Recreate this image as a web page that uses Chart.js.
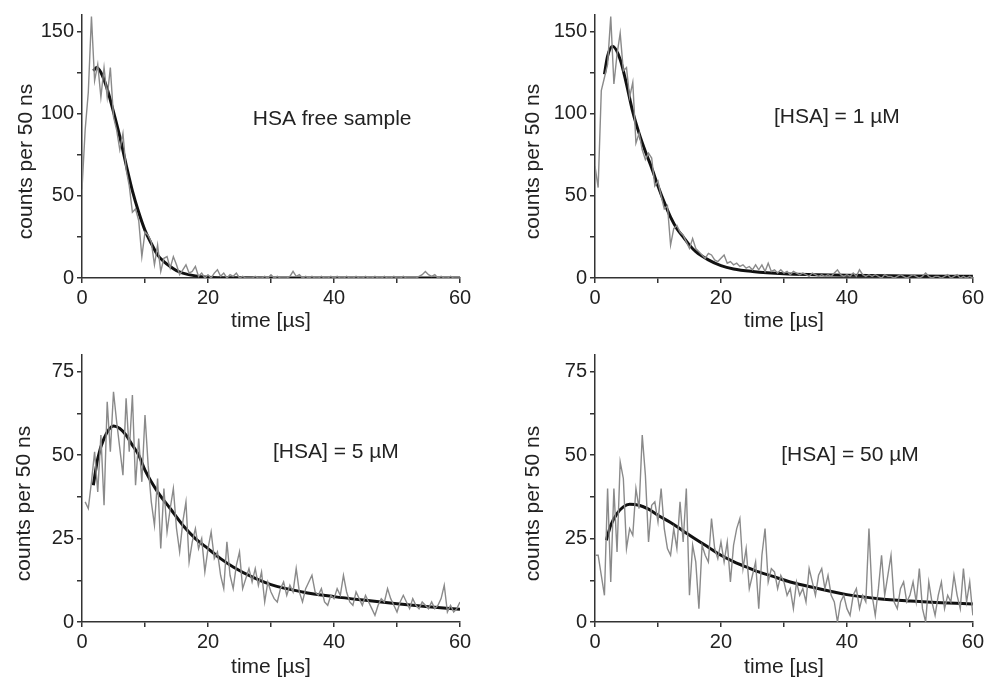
<!DOCTYPE html>
<html>
<head>
<meta charset="utf-8">
<script src="https://cdn.jsdelivr.net/npm/chart.js@4.4.1/dist/chart.umd.min.js"></script>
<style>
  html, body { margin: 0; padding: 0; background: #fff; }
  body { width: 987px; height: 678px; position: relative; overflow: hidden; }
  .panel { position: absolute; }
</style>
</head>
<body>
<div class="panel" style="left:0;top:0;width:490px;height:339px"><canvas id="c1"></canvas></div>
<div class="panel" style="left:490px;top:0;width:497px;height:339px"><canvas id="c2"></canvas></div>
<div class="panel" style="left:0;top:339px;width:490px;height:339px"><canvas id="c3"></canvas></div>
<div class="panel" style="left:490px;top:339px;width:497px;height:339px"><canvas id="c4"></canvas></div>
<script>
// time bins [µs] of the measured traces
const time = [
  0, 0.5, 1, 1.5, 2, 2.5, 3, 3.5, 4, 4.5,
  5, 5.5, 6, 6.5, 7, 7.5, 8, 8.5, 9, 9.5,
  10, 10.5, 11, 11.5, 12, 12.5, 13, 13.5, 14, 14.5,
  15, 15.5, 16, 16.5, 17, 17.5, 18, 18.5, 19, 19.5,
  20, 20.5, 21, 21.5, 22, 22.5, 23, 23.5, 24, 24.5,
  25, 25.5, 26, 26.5, 27, 27.5, 28, 28.5, 29, 29.5,
  30, 30.5, 31, 31.5, 32, 32.5, 33, 33.5, 34, 34.5,
  35, 35.5, 36, 36.5, 37, 37.5, 38, 38.5, 39, 39.5,
  40, 40.5, 41, 41.5, 42, 42.5, 43, 43.5, 44, 44.5,
  45, 45.5, 46, 46.5, 47, 47.5, 48, 48.5, 49, 49.5,
  50, 50.5, 51, 51.5, 52, 52.5, 53, 53.5, 54, 54.5,
  55, 55.5, 56, 56.5, 57, 57.5, 58, 58.5, 59, 59.5,
  60
];

// measured counts per 50 ns
const countsFree = [
  54, 90, 113, 159, 120, 130, 110, 128, 110, 128,
  98, 90, 78, 88, 66, 56, 40, 42, 35, 13,
  28, 26, 22, 8, 20, 4, 12, 13, 6, 13,
  8, 2, 5, 8, 3, 4, 7, 1, 3, 0,
  2, 0, 3, 5, 1, 3, 0, 2, 1, 3,
  0, 1, 0, 0, 0, 1, 0, 0, 1, 0,
  2, 0, 1, 0, 0, 0, 1, 4, 1, 2,
  0, 1, 0, 1, 0, 0, 1, 0, 0, 1,
  0, 1, 0, 0, 1, 0, 0, 1, 0, 0,
  1, 0, 0, 1, 0, 0, 1, 0, 0, 1,
  0, 0, 1, 0, 0, 0, 0, 1, 2, 4,
  2, 1, 2, 0, 1, 0, 0, 1, 0, 0,
  0
];
const counts1uM = [
  68, 55, 114, 122, 130, 159, 118, 136, 149, 126,
  128, 110, 119, 82, 88, 78, 72, 76, 73, 56,
  59, 50, 42, 44, 20, 30, 32, 28, 26, 22,
  18, 24, 18, 16, 14, 12, 15, 14, 11, 10,
  12, 14, 9, 10, 8, 9, 7, 8, 6, 7,
  5, 8, 5, 8, 4, 9, 4, 5, 3, 5,
  3, 4, 2, 4, 3, 2, 3, 2, 1, 3,
  2, 1, 2, 1, 2, 1, 3, 5, 2, 1,
  2, 1, 3, 1, 5, 2, 1, 2, 1, 2,
  1, 0, 2, 1, 1, 0, 1, 2, 1, 0,
  1, 2, 1, 0, 1, 3, 1, 0, 1, 1,
  0, 1, 2, 0, 1, 2, 0, 1, 0, 1,
  0
];
const counts5uM = [
  null, 36, 34, 42, 51, 39, 56, 35, 66, 51,
  69, 60, 52, 44, 67, 51, 68, 41, 55, 42,
  62, 47, 36, 29, 43, 22, 40, 27, 34, 40,
  28, 21, 30, 36, 18, 24, 28, 22, 25, 15,
  22, 27, 19, 21, 14, 10, 24, 14, 10, 17,
  21, 10, 13, 16, 12, 16, 11, 15, 6, 12,
  9, 7, 6, 10, 12, 8, 11, 9, 16, 9,
  6, 10, 12, 14, 9, 8, 10, 6, 5, 8,
  7, 10, 8, 14, 9, 6, 5, 9, 7, 5,
  8, 6, 4, 2, 5, 7, 6, 10, 7, 5,
  3, 6, 8, 6, 4, 7, 5, 4, 6, 5,
  4, 6, 4, 5, 7, 11, 3, 5, 3, 4,
  6
];
const counts50uM = [
  20, 20, 14, 8, 40, 12, 40, 21, 48, 43,
  22, 28, 26, 40, 34, 56, 44, 24, 35, 36,
  30, 40, 28, 22, 20, 28, 22, 36, 24, 40,
  8, 23, 18, 4, 23, 20, 18, 31, 22, 19,
  24, 18, 24, 12, 23, 28, 31, 16, 22, 10,
  14, 18, 4, 20, 28, 12, 16, 15, 10, 14,
  12, 8, 10, 4, 12, 8, 10, 6, 16, 12,
  8, 14, 16, 10, 14, 8, 6, 0, 6, 8,
  4, 2, 8, 10, 4, 8, 6, 28, 8, 2,
  10, 20, 8, 14, 20, 6, 4, 10, 12, 6,
  8, 12, 6, 16, 4, 0, 12, 6, 2, 8,
  12, 4, 8, 6, 14, 8, 4, 16, 6, 12,
  2
];

// fitted curves (time, counts)
const fitFreeT = [1.8, 2.3, 3, 4, 5, 6, 7, 8, 9, 10, 11, 12, 13, 14, 15, 16, 18, 20, 25, 30, 40, 50, 60];
const fitFreeY = [126, 128, 125, 115, 101, 86, 69, 53, 40, 29, 21, 14, 10, 7, 4.5, 3, 1.3, 0.5, 0.1, 0, 0, 0, 0];
const fit1uMT = [1.5, 2, 2.8, 4, 5, 6, 7, 8, 9, 10, 11, 12, 13, 14, 15, 16, 18, 20, 22, 25, 30, 35, 40, 50, 60];
const fit1uMY = [124, 135, 141, 133, 118, 101, 88, 77, 67, 56, 46, 37, 30, 25, 20, 16, 11, 7.5, 5.5, 4, 2.6, 2, 1.6, 1.2, 1];
const fit5uMT = [1.8, 2.5, 3.5, 5, 6, 7, 8, 9, 10, 12, 14, 16, 18, 20, 22, 24, 27, 30, 35, 40, 45, 50, 55, 60];
const fit5uMY = [41, 49, 55, 58.7, 58, 56, 53, 50, 45.5, 39, 34, 29, 25, 22, 19, 16.5, 13.5, 11.2, 9, 7.6, 6.5, 5.5, 4.6, 3.8];
const fit50uMT = [1.8, 2.5, 3.5, 4.5, 5.5, 7, 8.5, 10, 12, 14, 16, 18, 20, 22, 24, 26, 28, 31, 35, 40, 45, 50, 55, 60];
const fit50uMY = [24.5, 29, 32.5, 34.5, 35.3, 35, 33.8, 32, 29.8, 27.3, 24.8, 22.4, 20, 18.1, 16.5, 15, 13.8, 12, 10.2, 8.2, 7, 6.3, 5.8, 5.4];

// axis ticks (labelled ones are listed separately)
const xTicks = [0, 10, 20, 30, 40, 50, 60];
const xLabelled = [0, 20, 40, 60];
const yTicksTop = [0, 25, 50, 75, 100, 125, 150];
const yLabelledTop = [0, 50, 100, 150];
const yTicksBottom = [0, 12.5, 25, 37.5, 50, 62.5, 75];
const yLabelledBottom = [0, 25, 50, 75];

const labels = ['HSA free sample', '[HSA] = 1 µM', '[HSA] = 5 µM', '[HSA] = 50 µM'];
const yTitle = 'counts per 50 ns';
const xTitle = 'time [µs]';

const FONT = 'Liberation Sans, Arial, sans-serif';
const AXIS = '#333';
const TEXT = '#222';

function pairs(xs, ys) {
  return xs.map((x, i) => ({ x: x, y: ys[i] }));
}

// sample label inside the plot + rotated y title
const labelPlugin = {
  id: 'panelLabel',
  afterDraw(chart, args, opts) {
    const ctx = chart.ctx;
    const area = chart.chartArea;
    ctx.save();
    ctx.fillStyle = TEXT;
    ctx.textAlign = 'center';
    ctx.textBaseline = 'middle';
    ctx.font = '21px ' + FONT;
    ctx.fillText(opts.text, chart.scales.x.getPixelForValue(opts.x), chart.scales.y.getPixelForValue(opts.y));
    ctx.translate(area.left - opts.titleOffset, (area.top + area.bottom) / 2 + 15);
    ctx.rotate(-Math.PI / 2);
    ctx.fillText(yTitle, 0, 0);
    ctx.restore();
  }
};

function makePanel(id, p) {
  new Chart(document.getElementById(id), {
    type: 'line',
    data: {
      datasets: [
        {
          data: pairs(time, p.counts),
          borderColor: '#8a8a8a',
          borderWidth: 1.4,
          pointRadius: 0,
          tension: 0
        },
        {
          data: pairs(p.fitT, p.fitY),
          borderColor: '#111',
          borderWidth: 3,
          pointRadius: 0,
          cubicInterpolationMode: 'monotone'
        }
      ]
    },
    options: {
      responsive: true,
      maintainAspectRatio: false,
      animation: false,
      events: [],
      layout: { padding: p.pad },
      plugins: {
        legend: { display: false },
        tooltip: { enabled: false },
        panelLabel: { text: p.label, x: p.labelX, y: p.labelY, titleOffset: p.titleOffset }
      },
      scales: {
        x: {
          type: 'linear',
          min: 0, max: 60,
          border: { display: true, color: AXIS, width: 1.5 },
          grid: { drawOnChartArea: false, drawTicks: true, tickLength: 5, tickColor: AXIS, lineWidth: 1.5 },
          afterBuildTicks: s => { s.ticks = xTicks.map(v => ({ value: v })); },
          ticks: {
            padding: 3,
            color: TEXT,
            autoSkip: false,
            maxRotation: 0,
            font: { family: FONT, size: 20 },
            callback: v => (xLabelled.includes(v) ? v : '')
          },
          title: {
            display: true,
            text: xTitle,
            color: TEXT,
            font: { family: FONT, size: 21, lineHeight: 1 },
            padding: 0
          },
          afterFit: s => { s.height = p.xHeight; }
        },
        y: {
          min: 0, max: p.yMax,
          border: { display: true, color: AXIS, width: 1.5 },
          grid: { drawOnChartArea: false, drawTicks: true, tickLength: 5, tickColor: AXIS, lineWidth: 1.5 },
          afterBuildTicks: s => { s.ticks = p.yTicks.map(v => ({ value: v })); },
          ticks: {
            padding: 3,
            color: TEXT,
            autoSkip: false,
            font: { family: FONT, size: 20 },
            callback: v => (p.yLabelled.includes(v) ? v : '')
          },
          afterFit: s => { s.width = p.yWidth; }
        }
      }
    },
    plugins: [labelPlugin]
  });
}

makePanel('c1', {
  counts: countsFree, fitT: fitFreeT, fitY: fitFreeY,
  label: labels[0], labelX: 39.7, labelY: 96.6,
  yMax: 160, yTicks: yTicksTop, yLabelled: yLabelledTop,
  pad: { left: 0, top: 12, right: 30, bottom: 7 }, yWidth: 82, xHeight: 54, titleOffset: 56
});
makePanel('c2', {
  counts: counts1uM, fitT: fit1uMT, fitY: fit1uMY,
  label: labels[1], labelX: 38.4, labelY: 97.8,
  yMax: 160, yTicks: yTicksTop, yLabelled: yLabelledTop,
  pad: { left: 0, top: 12, right: 14, bottom: 7 }, yWidth: 105, xHeight: 54, titleOffset: 62
});
makePanel('c3', {
  counts: counts5uM, fitT: fit5uMT, fitY: fit5uMY,
  label: labels[2], labelX: 40.3, labelY: 50.8,
  yMax: 80, yTicks: yTicksBottom, yLabelled: yLabelledBottom,
  pad: { left: 0, top: 16, right: 30, bottom: 0 }, yWidth: 82, xHeight: 56, titleOffset: 58
});
makePanel('c4', {
  counts: counts50uM, fitT: fit50uMT, fitY: fit50uMY,
  label: labels[3], labelX: 40.5, labelY: 49.9,
  yMax: 80, yTicks: yTicksBottom, yLabelled: yLabelledBottom,
  pad: { left: 0, top: 16, right: 14, bottom: 0 }, yWidth: 105, xHeight: 56, titleOffset: 62
});
</script>
</body>
</html>
